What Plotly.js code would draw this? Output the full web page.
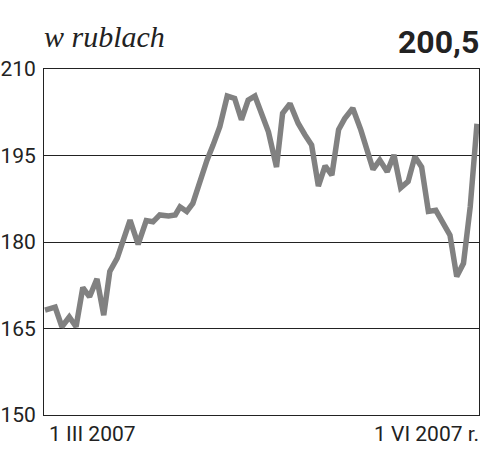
<!DOCTYPE html>
<html>
<head>
<meta charset="utf-8">
<script src="https://cdn.plot.ly/plotly-3.0.1.min.js"></script>
<style>
  html, body { margin: 0; padding: 0; background: #fff; }
  #chart { width: 500px; height: 464px; }
</style>
</head>
<body>
<div id="chart"></div>
<script>
// trading-day index (approx.) from 1 III 2007 to 1 VI 2007
const days = [0, 1.5, 2.5, 3.6, 4.6, 5.6, 6.6, 7.7, 8.7, 9.6, 10.7, 12.6, 13.8, 15.0, 16.0, 17.0, 18.3, 19.3, 20.0, 21.0, 21.9, 23.0, 24.0, 24.9, 25.9, 27.0, 28.1, 29.1, 30.1, 31.1, 33.1, 34.3, 35.2, 36.3, 37.5, 38.5, 39.5, 40.5, 41.5, 42.5, 43.5, 44.4, 45.6, 46.8, 47.7, 48.6, 49.6, 50.7, 51.7, 52.7, 53.8, 54.8, 55.8, 56.8, 57.9, 58.9, 60.0, 61.0, 62.0, 63.0, 64.0];
const prices = [168.2, 168.7, 165.3, 167.0, 165.3, 172.1, 170.5, 173.6, 167.3, 174.9, 177.2, 183.8, 179.6, 183.7, 183.5, 184.7, 184.5, 184.7, 186.1, 185.3, 186.7, 191.0, 194.2, 196.8, 200.0, 205.3, 204.9, 201.2, 204.6, 205.3, 199.1, 193.0, 202.3, 204.0, 200.6, 198.6, 196.8, 189.7, 193.2, 191.6, 199.5, 201.4, 203.2, 199.4, 196.0, 192.6, 194.2, 192.2, 195.1, 189.4, 190.5, 194.8, 193.0, 185.3, 185.5, 183.4, 181.2, 174.0, 176.3, 186.1, 200.5];
const yTicks = [150, 165, 180, 195, 210];
const xLabels = ['1 III 2007', '1 VI 2007 r.'];
const unitLabel = 'w rublach';

const lastValue = prices[prices.length - 1].toFixed(1).replace('.', ',');

const trace = {
  x: days,
  y: prices,
  type: 'scatter',
  mode: 'lines',
  line: { color: '#818181', width: 5.5, shape: 'linear' },
  hoverinfo: 'skip'
};

const tickFont = { family: 'Roboto, sans-serif', size: 21, color: '#222' };

const layout = {
  width: 500,
  height: 464,
  margin: { l: 44, r: 21, t: 69, b: 49 },
  paper_bgcolor: '#fff',
  plot_bgcolor: '#fff',
  showlegend: false,
  xaxis: {
    range: [-0.15, 64.3],
    showgrid: false,
    zeroline: false,
    showticklabels: false,
    ticks: '',
    showline: true,
    linecolor: '#222',
    linewidth: 1,
    mirror: true
  },
  yaxis: {
    range: [150, 210],
    tickvals: yTicks,
    ticktext: yTicks.map(String),
    ticks: '',
    tickfont: tickFont,
    ticklabelstandoff: 3,
    showgrid: true,
    gridcolor: '#222',
    gridwidth: 1,
    zeroline: false,
    showline: true,
    linecolor: '#222',
    linewidth: 1,
    mirror: true
  },
  annotations: [
    {
      text: unitLabel,
      xref: 'paper', yref: 'paper',
      x: 0, y: 1, xanchor: 'left', yanchor: 'bottom',
      xshift: -2, yshift: 14,
      showarrow: false,
      font: { family: '"Liberation Serif", serif', size: 30, color: '#222', style: 'italic' }
    },
    {
      text: '<b>' + lastValue + '</b>',
      xref: 'paper', yref: 'paper',
      x: 1, y: 1, xanchor: 'right', yanchor: 'bottom',
      xshift: 2, yshift: 6,
      showarrow: false,
      font: { family: 'Roboto, sans-serif', size: 32, color: '#222' }
    },
    {
      text: xLabels[0],
      xref: 'paper', yref: 'paper',
      x: 0, y: 0, xanchor: 'left', yanchor: 'top',
      xshift: 3, yshift: -5,
      showarrow: false,
      font: tickFont
    },
    {
      text: xLabels[1],
      xref: 'paper', yref: 'paper',
      x: 1, y: 0, xanchor: 'right', yanchor: 'top',
      xshift: 2, yshift: -5,
      showarrow: false,
      font: tickFont
    }
  ]
};

Plotly.newPlot('chart', [trace], layout, { displayModeBar: false, staticPlot: true });
</script>
</body>
</html>
